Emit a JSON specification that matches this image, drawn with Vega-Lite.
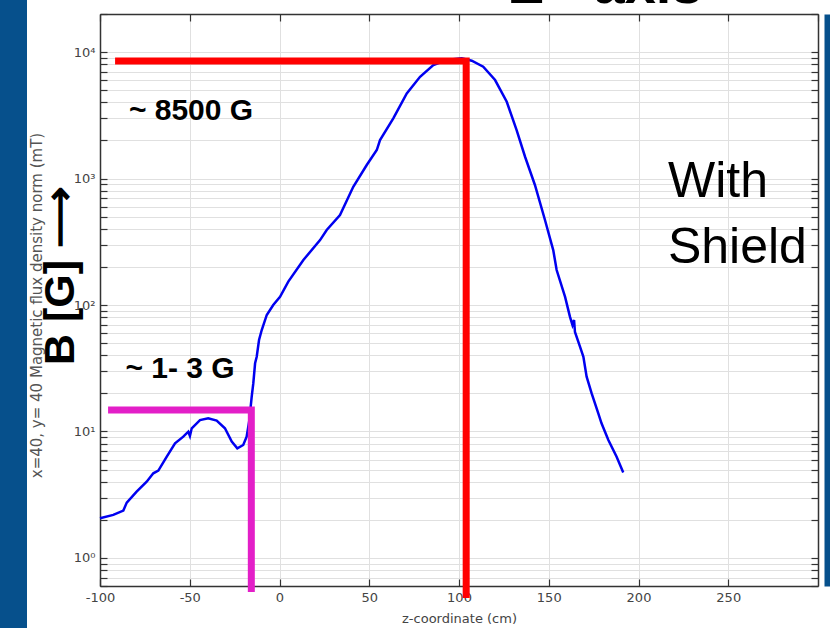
{
  "$schema": "https://vega.github.io/schema/vega-lite/v6.json",
  "width": 718,
  "height": 572,
  "autosize": {"type": "none"},
  "padding": {"left": 100, "top": 14, "right": 12, "bottom": 42},
  "background": "#06508c",
  "config": {
    "view": {"fill": "#ffffff", "stroke": "#ffffff", "strokeWidth": 146},
    "axis": {
      "labelFont": "DejaVu Sans",
      "labelFontSize": 13,
      "labelColor": "#444444",
      "titleFont": "DejaVu Sans",
      "titleFontSize": 13,
      "titleFontWeight": "normal",
      "titleColor": "#444444",
      "domainColor": "#333333",
      "domainWidth": 1.5,
      "tickColor": "#333333",
      "tickWidth": 1.2,
      "gridColor": "#e0e0e0",
      "gridWidth": 1
    }
  },
  "title": {
    "text": "Z - axis",
    "font": "Liberation Sans",
    "fontSize": 56,
    "fontWeight": "bold",
    "color": "#000000",
    "anchor": "middle",
    "dx": 147,
    "baseline": "alphabetic",
    "offset": -51
  },
  "datasets": {
    "field": [
      {"z": -100, "B": 2.06}, {"z": -92.6, "B": 2.19}, {"z": -87.0, "B": 2.37},
      {"z": -85.1, "B": 2.74}, {"z": -79.6, "B": 3.34}, {"z": -74.0, "B": 4.01},
      {"z": -70.3, "B": 4.67}, {"z": -67.5, "B": 4.90}, {"z": -62.8, "B": 6.32},
      {"z": -58.2, "B": 8.07}, {"z": -53.6, "B": 9.10}, {"z": -50.8, "B": 9.96},
      {"z": -49.9, "B": 9.21}, {"z": -48.9, "B": 10.6}, {"z": -44.3, "B": 12.3},
      {"z": -39.7, "B": 12.7}, {"z": -35.0, "B": 12.2}, {"z": -30.4, "B": 10.6},
      {"z": -26.6, "B": 8.31}, {"z": -23.5, "B": 7.36}, {"z": -20.2, "B": 7.82},
      {"z": -18.3, "B": 9.10}, {"z": -16.8, "B": 12.3}, {"z": -15.5, "B": 18.8},
      {"z": -14.6, "B": 24.0}, {"z": -13.6, "B": 34.6}, {"z": -12.7, "B": 39.0},
      {"z": -11.4, "B": 52.9}, {"z": -9.9, "B": 63.4}, {"z": -7.1, "B": 83.4},
      {"z": -3.5, "B": 100}, {"z": 0.3, "B": 116}, {"z": 4.9, "B": 153},
      {"z": 13.3, "B": 227}, {"z": 22.6, "B": 326}, {"z": 26.3, "B": 392},
      {"z": 33.7, "B": 514}, {"z": 41.1, "B": 861}, {"z": 48.6, "B": 1279},
      {"z": 54.2, "B": 1680}, {"z": 56.0, "B": 2015}, {"z": 63.4, "B": 2992},
      {"z": 70.9, "B": 4713}, {"z": 78.3, "B": 6378}, {"z": 85.7, "B": 7892},
      {"z": 93.1, "B": 8650}, {"z": 101.5, "B": 8918}, {"z": 107.1, "B": 8537},
      {"z": 113.5, "B": 7654}, {"z": 120.1, "B": 6010}, {"z": 126.6, "B": 4047},
      {"z": 132.1, "B": 2417}, {"z": 136.8, "B": 1487}, {"z": 142.3, "B": 889},
      {"z": 147.9, "B": 470}, {"z": 152.5, "B": 272}, {"z": 154.4, "B": 189},
      {"z": 159.1, "B": 116}, {"z": 161.8, "B": 80.9}, {"z": 163.2, "B": 69.5},
      {"z": 164.1, "B": 76.1}, {"z": 164.6, "B": 61.2}, {"z": 167.4, "B": 46.8},
      {"z": 169.3, "B": 39.0}, {"z": 171.1, "B": 27.1}, {"z": 173.9, "B": 20.0},
      {"z": 177.6, "B": 13.9}, {"z": 179.4, "B": 11.6}, {"z": 183.2, "B": 8.57},
      {"z": 187.8, "B": 6.32}, {"z": 191.5, "B": 4.73}
    ],
    "guides": [
      {"path": "peak", "order": 1, "z": -91.6, "B": 8500},
      {"path": "peak", "order": 2, "z": 104, "B": 8500},
      {"path": "peak", "order": 3, "z": 104, "B": 0.483},
      {"path": "shielded", "order": 1, "z": -95.5, "B": 14.8},
      {"path": "shielded", "order": 2, "z": -15.7, "B": 14.8},
      {"path": "shielded", "order": 3, "z": -15.7, "B": 0.538}
    ],
    "notes": [
      {"label": "~ 8500 G", "z": -49.3, "B": 2900},
      {"label": "~ 1- 3 G", "z": -55.4, "B": 26.5}
    ],
    "caption": [
      {"label": "With", "z": 216.4, "B": 714},
      {"label": "Shield", "z": 216.4, "B": 215}
    ]
  },
  "resolve": {"axis": {"x": "independent", "y": "independent"}},
  "layer": [
    {
      "data": {"name": "field"},
      "mark": {"type": "line", "color": "#0000f0", "strokeWidth": 2.5, "clip": false},
      "encoding": {
        "x": {
          "field": "z", "type": "quantitative",
          "scale": {"domain": [-100, 300], "nice": false, "zero": false},
          "axis": {
            "orient": "bottom",
            "values": [-100, -50, 0, 50, 100, 150, 200, 250],
            "labelExpr": "'' + datum.value",
            "tickSize": -7,
            "labelPadding": 12,
            "labelOverlap": false,
            "labelFlush": false,
            "grid": true,
            "title": "z-coordinate (cm)",
            "titlePadding": 8
          }
        },
        "y": {
          "field": "B", "type": "quantitative",
          "scale": {"type": "log", "domain": [0.6, 20000], "nice": false},
          "axis": {
            "orient": "left",
            "values": [0.6, 0.7, 0.8, 0.9, 1, 2, 3, 4, 5, 6, 7, 8, 9, 10, 20, 30, 40, 50, 60, 70, 80, 90, 100, 200, 300, 400, 500, 600, 700, 800, 900, 1000, 2000, 3000, 4000, 5000, 6000, 7000, 8000, 9000, 10000, 20000],
            "labelExpr": "abs(log(datum.value) / LN10 - round(log(datum.value) / LN10)) < 0.001 ? '10' + ['⁰', '¹', '²', '³', '⁴'][round(log(datum.value) / LN10)] : ''",
            "tickSize": -7,
            "labelPadding": 12,
            "labelOverlap": false,
            "labelFlush": false,
            "grid": true,
            "title": "x=40, y= 40 Magnetic flux density norm (mT)",
            "titleFontSize": 15,
            "titleAngle": 270,
            "titleAlign": "center",
            "titleBaseline": "alphabetic",
            "titleX": -59,
            "titleY": 291,
            "titleColor": "#555555"
          }
        }
      }
    },
    {
      "data": {"name": "guides"},
      "mark": {"type": "line", "strokeWidth": 7, "strokeJoin": "miter", "strokeCap": "butt", "clip": false},
      "encoding": {
        "x": {
          "field": "z", "type": "quantitative",
          "scale": {"domain": [-100, 300], "nice": false, "zero": false},
          "axis": {
            "orient": "top",
            "values": [-100, -50, 0, 50, 100, 150, 200, 250, 300],
            "tickSize": -7,
            "labels": false,
            "grid": false,
            "title": null
          }
        },
        "y": {
          "field": "B", "type": "quantitative",
          "scale": {"type": "log", "domain": [0.6, 20000], "nice": false},
          "axis": {
            "orient": "right",
            "values": [0.6, 0.7, 0.8, 0.9, 1, 2, 3, 4, 5, 6, 7, 8, 9, 10, 20, 30, 40, 50, 60, 70, 80, 90, 100, 200, 300, 400, 500, 600, 700, 800, 900, 1000, 2000, 3000, 4000, 5000, 6000, 7000, 8000, 9000, 10000, 20000],
            "tickSize": -7,
            "labels": false,
            "grid": false,
            "title": null
          }
        },
        "order": {"field": "order"},
        "color": {
          "field": "path", "type": "nominal",
          "scale": {"domain": ["peak", "shielded"], "range": ["#ff0000", "#e31fc8"]},
          "legend": null
        }
      }
    },
    {
      "data": {"name": "notes"},
      "mark": {"type": "text", "font": "Liberation Sans", "fontSize": 30, "fontWeight": "bold", "color": "#000000", "align": "center", "baseline": "alphabetic", "clip": false},
      "encoding": {
        "x": {
          "field": "z", "type": "quantitative",
          "scale": {"domain": [-100, 300], "nice": false, "zero": false},
          "axis": null
        },
        "y": {
          "field": "B", "type": "quantitative",
          "scale": {"type": "log", "domain": [0.6, 20000], "nice": false},
          "axis": {
            "orient": "left",
            "domain": false,
            "ticks": false,
            "labels": false,
            "grid": false,
            "title": "B [G] ⟶",
            "titleFont": "Liberation Sans",
            "titleFontSize": 43,
            "titleFontWeight": "bold",
            "titleColor": "#000000",
            "titleAngle": 270,
            "titleAlign": "center",
            "titleBaseline": "alphabetic",
            "titleX": -27,
            "titleY": 261
          }
        },
        "text": {"field": "label", "type": "nominal"}
      }
    },
    {
      "data": {"name": "caption"},
      "mark": {"type": "text", "font": "Liberation Sans", "fontSize": 50, "color": "#000000", "align": "left", "baseline": "alphabetic", "clip": false},
      "encoding": {
        "x": {
          "field": "z", "type": "quantitative",
          "scale": {"domain": [-100, 300], "nice": false, "zero": false},
          "axis": null
        },
        "y": {
          "field": "B", "type": "quantitative",
          "scale": {"type": "log", "domain": [0.6, 20000], "nice": false},
          "axis": {
            "orient": "right",
            "offset": 9,
            "domainColor": "#06508c",
            "domainWidth": 6,
            "ticks": false,
            "labels": false,
            "grid": false,
            "title": null
          }
        },
        "text": {"field": "label", "type": "nominal"}
      }
    }
  ]
}
